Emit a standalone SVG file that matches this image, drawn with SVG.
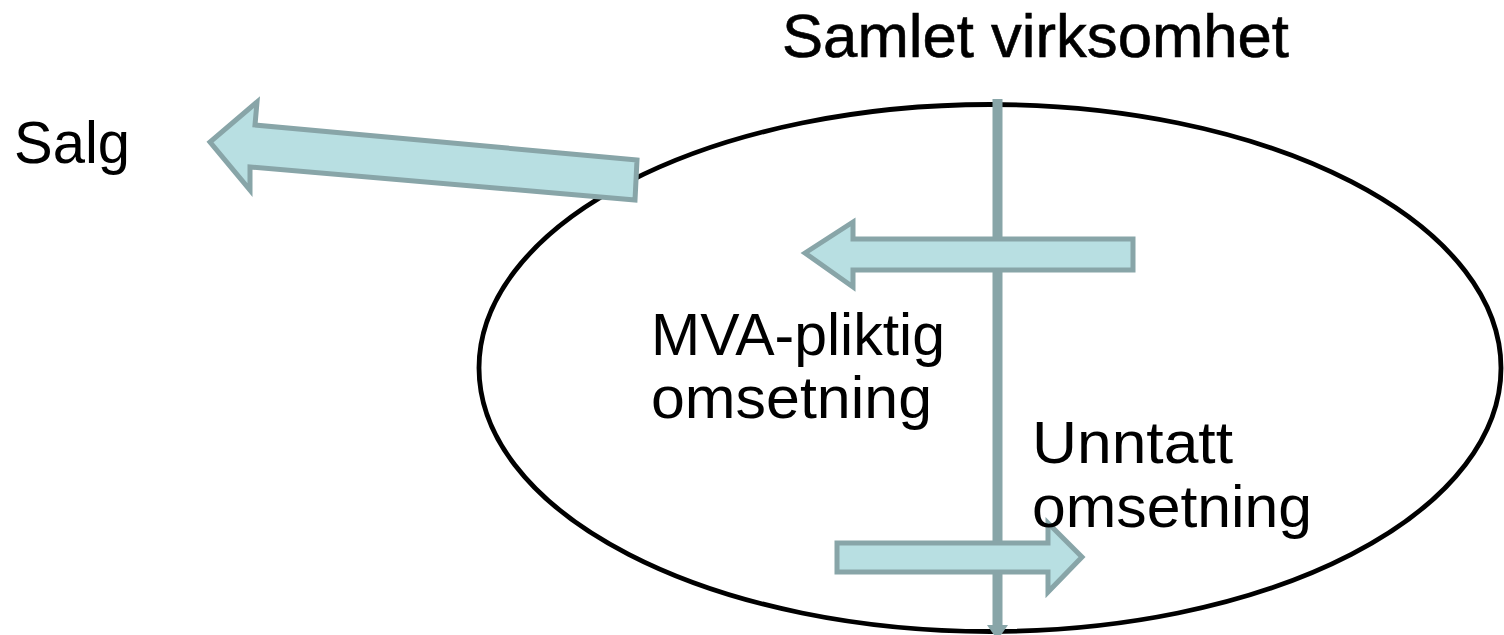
<svg xmlns="http://www.w3.org/2000/svg" width="1504" height="635" viewBox="0 0 1504 635">
<style>
.arrow{fill:#B8DFE2;stroke:#88A5A8;stroke-width:5;stroke-linejoin:miter}
.lbl{font-family:"Liberation Sans",Arial,sans-serif;fill:#000}
</style>
<rect width="1504" height="635" fill="#fff"/>
<g id="ellipse-node">
<ellipse cx="990" cy="368" rx="511" ry="263.5" fill="none" stroke="#000" stroke-width="4.8"/>
</g>
<g id="connectors">
<line x1="997.5" y1="99" x2="997.5" y2="626" stroke="#88A5A8" stroke-width="10"/>
<polygon points="987,625 1008,625 997.5,640" fill="#88A5A8"/>
<polygon class="arrow" points="637,160 255,125 257,102 210,142 250,190 250,167 635,200"/>
<polygon class="arrow" points="1133,239 853,239 853,222 805,253 853,287 853,270 1133,270"/>
<polygon class="arrow" points="837,543 1048,543 1048,523 1082,557 1048,592 1048,572 837,572"/>
</g>
<g id="title">
<text class="lbl" x="782" y="57" font-size="62" stroke="#000" stroke-width="0.6" textLength="507" lengthAdjust="spacingAndGlyphs">Samlet virksomhet</text>
</g>
<g id="salg">
<text class="lbl" x="14" y="163" font-size="60" textLength="116" lengthAdjust="spacingAndGlyphs">Salg</text>
</g>
<g id="mva">
<text class="lbl" x="651" y="355" font-size="60" textLength="294" lengthAdjust="spacingAndGlyphs">MVA-pliktig</text>
<text class="lbl" x="651" y="418" font-size="60" textLength="281" lengthAdjust="spacingAndGlyphs">omsetning</text>
</g>
<g id="unntatt">
<text class="lbl" x="1032" y="463" font-size="60" textLength="201" lengthAdjust="spacingAndGlyphs">Unntatt</text>
<text class="lbl" x="1032" y="527" font-size="60" textLength="280" lengthAdjust="spacingAndGlyphs">omsetning</text>
</g>
</svg>
